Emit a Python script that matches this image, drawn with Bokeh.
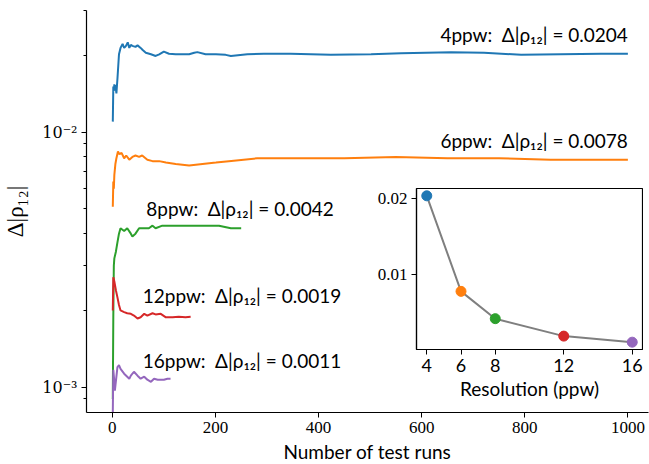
from bokeh.plotting import figure
from bokeh.models import FixedTicker, Range1d, ColumnDataSource
from bokeh.layouts import column
from bokeh.embed import file_html
from bokeh.resources import INLINE
from bokeh.core.properties import value

# ---------------- data ----------------
runs_4 = [1, 2, 3, 4, 5, 6, 8, 10, 13, 16, 20, 23, 26, 30, 33, 36, 39, 45, 49, 55,
          59, 65, 75, 84, 91, 100, 110, 123, 136, 149, 159, 165, 181, 201, 220, 230,
          262, 294, 346, 424, 502, 560, 657, 721, 793, 870, 948, 1000]
err_4 = [0.0110, 0.0151, 0.0145, 0.0154, 0.0147, 0.0153, 0.0142, 0.0162, 0.0202, 0.0214,
         0.0222, 0.0214, 0.0217, 0.0225, 0.0214, 0.0220, 0.0218, 0.0216, 0.0219, 0.0214,
         0.0210, 0.0205, 0.0202, 0.0199, 0.0202, 0.0207, 0.0203, 0.0202, 0.0202, 0.0202,
         0.0205, 0.0206, 0.0202, 0.0202, 0.0201, 0.0199, 0.0202, 0.0203, 0.0203, 0.0201,
         0.0202, 0.0204, 0.0206, 0.0205, 0.0201, 0.0202, 0.0203, 0.0203]

runs_6 = [1, 2, 3, 4, 6, 8, 11, 14, 18, 23, 27, 33, 39, 45, 52, 58, 68, 78, 91, 104,
          123, 149, 175, 201, 226, 281, 346, 450, 550, 650, 750, 850, 950, 1000]
err_6 = [0.0051, 0.0064, 0.0060, 0.0068, 0.0075, 0.0079, 0.0084, 0.0082, 0.0083, 0.0079,
         0.0081, 0.0078, 0.0080, 0.0081, 0.0080, 0.0081, 0.0078, 0.0077, 0.0077, 0.0076,
         0.0075, 0.0074, 0.0075, 0.0076, 0.0077, 0.0079, 0.0079, 0.0079, 0.0080, 0.0079,
         0.0079, 0.0078, 0.0078, 0.0078]

runs_8 = [1, 2, 3, 4, 7, 10, 13, 16, 23, 29, 36, 39, 45, 52, 58, 65, 71, 78, 84, 97,
          117, 136, 155, 181, 207, 230, 250]
err_8 = [0.0009, 0.0019, 0.0030, 0.0032, 0.0034, 0.0037, 0.0040, 0.0042, 0.0041, 0.0042,
         0.0040, 0.0039, 0.0040, 0.0042, 0.0042, 0.0042, 0.0042, 0.0043, 0.0042, 0.0043,
         0.0043, 0.0043, 0.0043, 0.0043, 0.0043, 0.0042, 0.0042]

runs_12 = [1, 2, 4, 7, 10, 13, 16, 23, 29, 36, 42, 49, 55, 62, 68, 78, 84, 94, 104, 117,
           129, 142, 152]
err_12 = [0.0020, 0.0027, 0.0026, 0.0024, 0.00225, 0.0021, 0.0020, 0.00197, 0.00195, 0.00194,
          0.00191, 0.00186, 0.00188, 0.00194, 0.00191, 0.00195, 0.00193, 0.00194, 0.00188, 0.00188,
          0.00189, 0.00188, 0.00189]

runs_16 = [1, 2, 4, 5, 10, 13, 16, 23, 29, 33, 36, 42, 49, 55, 62, 68, 75, 81, 88, 94,
           100, 107, 113]
err_16 = [0.00080, 0.00117, 0.00105, 0.00097, 0.00120, 0.00122, 0.00118, 0.00113, 0.00110, 0.00108,
          0.00111, 0.00115, 0.00111, 0.00108, 0.00110, 0.00107, 0.00105, 0.00108, 0.00107, 0.00107,
          0.00107, 0.00108, 0.00108]

series_names = ["4ppw", "6ppw", "8ppw", "12ppw", "16ppw"]
resolutions = [4, 6, 8, 12, 16]
final_err = [0.0204, 0.0078, 0.0042, 0.0019, 0.0011]

x_ticks = [0, 200, 400, 600, 800, 1000]
y_ticks = [0.001, 0.01]
y_tick_labels = ["10\u207b\u00b3", "10\u207b\u00b2"]
y_minor_ticks = [0.0009, 0.002, 0.003, 0.004, 0.005, 0.006, 0.007, 0.008, 0.009, 0.02, 0.03]
inset_x_ticks = [4, 6, 8, 12, 16]
inset_y_ticks = [0.01, 0.02]
inset_y_tick_labels = ["0.01", "0.02"]

# annotation anchor points (data coordinates) and alignment
label_x = [1000, 1000, 66, 59, 59]
label_y = [0.0242, 0.0093, 0.0050, 0.00229, 0.00127]
label_align = ["right", "right", "left", "left", "left"]

colors = ["#1f77b4", "#ff7f0e", "#2ca02c", "#d62728", "#9467bd"]

SANS = "Lato"
SERIF = "Liberation Serif"
LEFT_BORDER = 86

# ---------------- main figure ----------------
p = figure(frame_width=562, frame_height=402,
           x_range=Range1d(-50, 1040), y_range=Range1d(7.96e-4, 0.030),
           y_axis_type="log", output_backend="svg", toolbar_location=None,
           min_border_left=LEFT_BORDER, min_border_top=10, min_border_right=1,
           min_border_bottom=50)
p.outline_line_color = None
p.xgrid.visible = False
p.ygrid.visible = False
p.background_fill_color = "white"
p.border_fill_color = "white"

p.xaxis.ticker = FixedTicker(ticks=x_ticks)
p.yaxis.ticker = FixedTicker(ticks=y_ticks, minor_ticks=y_minor_ticks)
p.yaxis.major_label_overrides = dict(zip(y_ticks, y_tick_labels))

for ax in (p.xaxis, p.yaxis):
    ax.axis_line_color = "black"
    ax.axis_line_width = 1.2
    ax.major_tick_line_color = "black"
    ax.minor_tick_line_color = "black"
    ax.major_tick_in = 0
    ax.major_tick_out = 5
    ax.minor_tick_in = 0
    ax.minor_tick_out = 3
    ax.major_label_text_font = SERIF
    ax.major_label_text_font_size = "17px"
    ax.major_label_text_color = "black"
    ax.axis_label_text_font_style = "normal"
    ax.axis_label_text_color = "black"

p.xaxis.major_label_standoff = 4
p.xaxis.axis_label = "Number of test runs"
p.xaxis.axis_label_text_font = SANS
p.xaxis.axis_label_text_font_size = "19px"
p.xaxis.axis_label_standoff = 4

p.yaxis.major_label_text_font = "DejaVu Serif"
p.yaxis.major_label_text_font_size = "16px"
p.yaxis.major_label_standoff = 4
p.yaxis.axis_label = "\u0394|\u03c1\u2081\u2082|"
p.yaxis.axis_label_text_font = SERIF
p.yaxis.axis_label_text_font_size = "23px"
p.yaxis.axis_label_standoff = 11

all_runs = [runs_4, runs_6, runs_8, runs_12, runs_16]
all_err = [err_4, err_6, err_8, err_12, err_16]
for r, e, c in zip(all_runs, all_err, colors):
    p.line(r, e, line_color=c, line_width=2)

texts = [f"{n}:\u2002\u0394|\u03c1\u2081\u2082| = {v:.4f}" for n, v in zip(series_names, final_err)]
src = ColumnDataSource(dict(x=label_x, y=label_y, text=texts, align=label_align))
p.text(x="x", y="y", text="text", text_align="align", source=src,
       text_baseline="alphabetic", text_font=value(SANS),
       text_font_size="19px", text_color="black")

# ---------------- inset ----------------
inset = figure(frame_width=226, frame_height=161,
               x_range=Range1d(3.4, 16.6), y_range=Range1d(0.000135, 0.021365),
               output_backend="svg", toolbar_location=None,
               min_border_left=LEFT_BORDER, min_border_top=2, min_border_right=1,
               min_border_bottom=30,
               styles={"position": "absolute",
                       "left": f"{415.7 - LEFT_BORDER:.1f}px",
                       "top": "186.3px"})
inset.border_fill_color = None
inset.background_fill_color = "white"
inset.outline_line_color = "black"
inset.outline_line_width = 1.2
inset.xgrid.visible = False
inset.ygrid.visible = False
inset.xaxis.ticker = FixedTicker(ticks=inset_x_ticks)
inset.yaxis.ticker = FixedTicker(ticks=inset_y_ticks)
inset.yaxis.major_label_overrides = dict(zip(inset_y_ticks, inset_y_tick_labels))
for ax in (inset.xaxis, inset.yaxis):
    ax.axis_line_color = "black"
    ax.axis_line_width = 1.2
    ax.major_tick_line_color = "black"
    ax.major_tick_in = 0
    ax.major_tick_out = 5
    ax.minor_tick_line_color = None
    ax.major_label_text_font_size = "17px"
    ax.major_label_text_color = "black"
    ax.major_label_standoff = 4
    ax.axis_label_text_font_style = "normal"
    ax.axis_label_text_color = "black"
inset.xaxis.major_label_text_font = SANS
inset.xaxis.major_label_text_font_size = "18px"
inset.yaxis.major_label_text_font = SERIF
inset.xaxis.axis_label = "Resolution (ppw)"
inset.xaxis.axis_label_text_font = SANS
inset.xaxis.axis_label_text_font_size = "19px"
inset.xaxis.axis_label_standoff = 2

inset.line(resolutions, final_err, line_color="#7f7f7f", line_width=2)
inset.scatter(resolutions, final_err, size=10, fill_color=colors, line_color=colors)

root = column(p, inset, styles={"position": "relative"})

open("out.html", "w").write(file_html(root, INLINE))
